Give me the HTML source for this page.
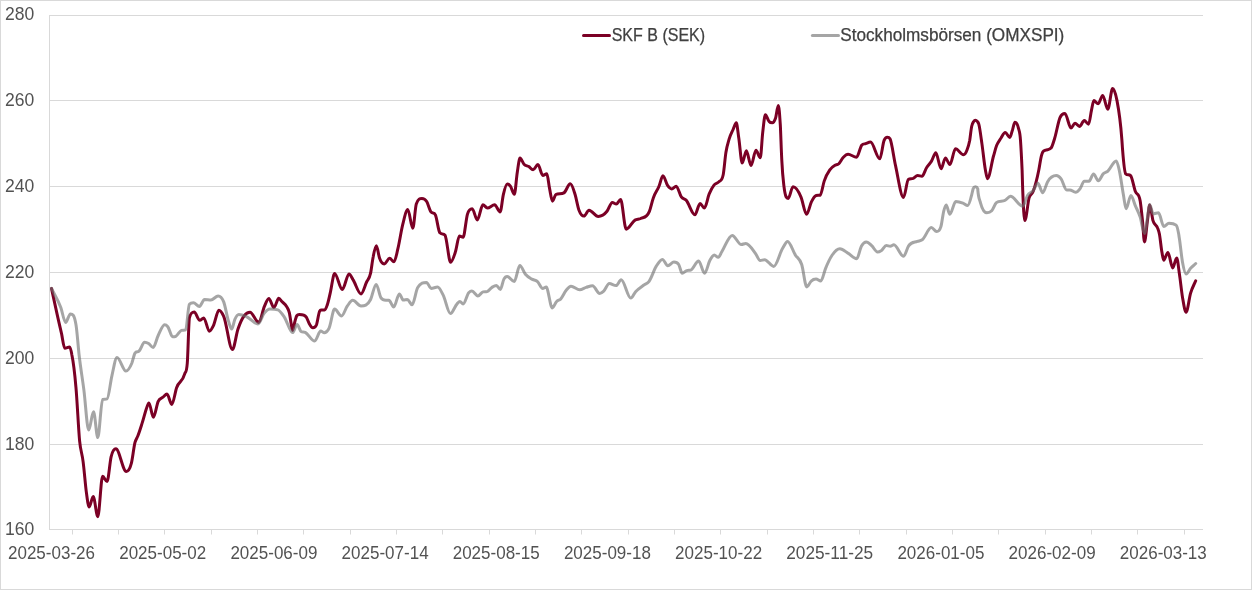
<!DOCTYPE html>
<html lang="sv"><head><meta charset="utf-8"><title>SKF B vs OMXSPI</title>
<style>html,body{margin:0;padding:0;background:#fff}body{width:1252px;height:590px;overflow:hidden}svg{display:block}text{font-family:"Liberation Sans",sans-serif;fill:#404040}text.a{fill:#525252}text.l{stroke:#404040;stroke-width:0.25px}</style></head><body>
<svg width="1252" height="590" viewBox="0 0 1252 590">
<rect x="0.5" y="0.5" width="1251" height="589" fill="#fff" stroke="#D9D9D9" stroke-width="1"/>
<path d="M49.0 15.5H1203.0M49.0 100.5H1203.0M49.0 186.5H1203.0M49.0 272.5H1203.0M49.0 358.5H1203.0M49.0 444.5H1203.0M49.0 529.5H1203.0M49.5 15.5V529.5M72.5 529.5V534.5M118.5 529.5V534.5M164.5 529.5V534.5M211.5 529.5V534.5M257.5 529.5V534.5M303.5 529.5V534.5M350.5 529.5V534.5M396.5 529.5V534.5M442.5 529.5V534.5M489.5 529.5V534.5M535.5 529.5V534.5M581.5 529.5V534.5M628.5 529.5V534.5M674.5 529.5V534.5M720.5 529.5V534.5M767.5 529.5V534.5M813.5 529.5V534.5M859.5 529.5V534.5M906.5 529.5V534.5M952.5 529.5V534.5M998.5 529.5V534.5M1045.5 529.5V534.5M1091.5 529.5V534.5M1137.5 529.5V534.5M1184.5 529.5V534.5" fill="none" stroke="#D9D9D9" stroke-width="1"/>
<text class="a" x="5.0" y="20.1" font-size="18.5" textLength="29.3" lengthAdjust="spacingAndGlyphs">280</text>
<text class="a" x="5.0" y="106.0" font-size="18.5" textLength="29.3" lengthAdjust="spacingAndGlyphs">260</text>
<text class="a" x="5.0" y="192.1" font-size="18.5" textLength="29.3" lengthAdjust="spacingAndGlyphs">240</text>
<text class="a" x="5.0" y="278.1" font-size="18.5" textLength="29.3" lengthAdjust="spacingAndGlyphs">220</text>
<text class="a" x="5.0" y="364.1" font-size="18.5" textLength="29.3" lengthAdjust="spacingAndGlyphs">200</text>
<text class="a" x="5.0" y="450.1" font-size="18.5" textLength="29.3" lengthAdjust="spacingAndGlyphs">180</text>
<text class="a" x="5.0" y="535.0" font-size="18.5" textLength="29.3" lengthAdjust="spacingAndGlyphs">160</text>
<text class="a" x="8.0" y="559.1" font-size="18.5" textLength="87.0" lengthAdjust="spacingAndGlyphs">2025-03-26</text>
<text class="a" x="119.2" y="559.1" font-size="18.5" textLength="87.0" lengthAdjust="spacingAndGlyphs">2025-05-02</text>
<text class="a" x="230.4" y="559.1" font-size="18.5" textLength="87.0" lengthAdjust="spacingAndGlyphs">2025-06-09</text>
<text class="a" x="341.6" y="559.1" font-size="18.5" textLength="87.0" lengthAdjust="spacingAndGlyphs">2025-07-14</text>
<text class="a" x="452.7" y="559.1" font-size="18.5" textLength="87.0" lengthAdjust="spacingAndGlyphs">2025-08-15</text>
<text class="a" x="563.9" y="559.1" font-size="18.5" textLength="87.0" lengthAdjust="spacingAndGlyphs">2025-09-18</text>
<text class="a" x="675.1" y="559.1" font-size="18.5" textLength="87.0" lengthAdjust="spacingAndGlyphs">2025-10-22</text>
<text class="a" x="786.2" y="559.1" font-size="18.5" textLength="87.0" lengthAdjust="spacingAndGlyphs">2025-11-25</text>
<text class="a" x="897.4" y="559.1" font-size="18.5" textLength="87.0" lengthAdjust="spacingAndGlyphs">2026-01-05</text>
<text class="a" x="1008.6" y="559.1" font-size="18.5" textLength="87.0" lengthAdjust="spacingAndGlyphs">2026-02-09</text>
<text class="a" x="1119.8" y="559.1" font-size="18.5" textLength="87.0" lengthAdjust="spacingAndGlyphs">2026-03-13</text>
<path d="M51.5 288.4C53.0 295.3 54.5 302.4 56.0 309.1C57.8 317.6 59.7 325.6 61.6 333.9C62.6 338.7 63.7 348.3 64.8 348.3C66.4 348.3 68.0 347.0 69.6 347.0C70.4 347.0 71.2 350.9 71.9 355.0C73.3 361.8 74.6 371.7 75.9 386.9C77.2 401.0 78.4 428.3 79.6 440.8C80.8 452.7 82.0 452.4 83.1 461.6C84.2 469.9 85.3 484.2 86.3 491.9C87.3 498.9 88.2 507.1 89.2 507.1C90.5 507.1 91.9 496.4 93.2 496.4C94.7 496.4 96.3 516.7 97.8 516.7C99.4 516.7 101.0 476.3 102.6 476.3C104.1 476.3 105.6 481.5 107.1 481.5C108.4 481.5 109.8 462.3 111.1 456.8C112.7 450.2 114.3 448.8 115.9 448.8C119.3 448.8 122.8 471.5 126.3 471.5C128.0 471.5 129.7 469.9 131.4 463.2C132.6 458.3 133.8 447.0 135.0 442.4C136.0 439.0 136.9 438.3 137.8 436.0C139.3 432.2 140.7 427.6 142.2 422.9C143.6 418.7 144.9 413.0 146.2 409.3C147.1 406.8 148.0 402.9 148.9 402.9C150.4 402.9 151.9 417.3 153.4 417.3C155.0 417.3 156.6 404.7 158.2 401.3C159.8 398.0 161.4 398.5 163.0 397.2C164.3 396.1 165.7 394.1 167.0 394.1C168.6 394.1 170.2 404.5 171.8 404.5C173.4 404.5 175.0 392.3 176.6 387.7C179.2 380.2 181.9 383.5 184.6 374.2C185.5 371.0 186.4 374.2 187.3 363.0C188.0 354.4 188.7 320.6 189.4 317.9C191.0 311.9 192.6 311.9 194.2 311.9C196.0 311.9 197.9 320.3 199.7 320.3C201.1 320.3 202.4 317.9 203.7 317.9C205.6 317.9 207.5 331.2 209.3 331.2C210.7 331.2 212.0 328.5 213.3 325.9C215.2 322.3 217.1 310.3 218.9 310.3C220.5 310.3 222.1 312.9 223.7 316.3C226.6 322.6 229.5 349.5 232.4 349.5C234.3 349.5 236.1 334.6 238.0 329.1C240.1 322.8 242.2 318.3 244.4 315.5C246.2 313.1 248.1 312.3 250.0 312.3C252.9 312.3 255.8 322.4 258.8 322.4C260.6 322.4 262.5 311.0 264.3 306.7C265.8 303.3 267.3 298.4 268.8 298.4C270.5 298.4 272.2 307.5 273.9 307.5C275.6 307.5 277.2 298.3 278.8 298.3C279.8 298.3 280.9 300.5 281.9 301.6C283.5 303.3 285.1 303.8 286.7 306.7C287.5 308.3 288.4 308.6 289.3 312.6C289.9 315.1 290.5 319.6 291.0 322.7C291.5 325.5 292.0 330.4 292.6 330.4C293.4 330.4 294.2 323.5 295.1 320.7C295.7 318.8 296.2 316.5 296.8 315.6C297.6 314.4 298.4 314.4 299.2 314.4C300.7 314.4 302.2 314.4 303.7 315.1C304.6 315.5 305.4 315.9 306.3 317.1C307.3 318.6 308.3 322.0 309.3 323.7C310.5 325.8 311.7 327.8 312.9 327.8C314.1 327.8 315.3 327.8 316.5 324.8C317.5 322.1 318.5 313.7 319.5 311.5C320.0 310.5 320.5 310.0 321.0 310.0C322.2 310.0 323.4 310.0 324.6 310.0C325.4 310.0 326.3 307.8 327.1 305.4C328.2 302.6 329.2 297.5 330.2 293.2C331.7 287.0 333.2 273.5 334.6 273.5C337.2 273.5 339.7 289.5 342.3 289.5C344.5 289.5 346.8 274.0 349.0 274.0C350.3 274.0 351.7 277.5 353.0 279.6C355.7 283.7 358.3 293.9 361.0 293.9C362.9 293.9 364.7 286.0 366.6 282.0C367.9 279.1 369.2 279.5 370.6 273.2C371.4 269.1 372.3 261.0 373.2 256.7C374.2 251.3 375.3 245.8 376.4 245.8C377.4 245.8 378.5 255.3 379.6 258.3C381.2 262.8 382.7 263.9 384.3 263.9C386.1 263.9 387.9 258.3 389.6 258.3C391.1 258.3 392.5 261.8 393.9 261.8C395.3 261.8 396.6 254.1 397.9 248.7C399.5 242.2 401.1 231.1 402.7 224.7C404.4 217.9 406.1 209.6 407.8 209.6C409.5 209.6 411.1 228.2 412.8 228.2C414.0 228.2 415.1 207.5 416.3 204.0C418.2 198.4 420.0 198.4 421.9 198.4C423.5 198.4 425.1 198.9 426.7 201.6C428.0 203.8 429.3 209.4 430.7 211.6C432.3 214.4 433.9 211.6 435.5 215.1C436.9 218.3 438.3 230.8 439.8 232.7C441.5 235.1 443.3 232.7 445.0 235.1C446.9 237.7 448.8 262.3 450.6 262.3C452.2 262.3 453.8 256.9 455.4 251.9C456.8 247.7 458.1 235.9 459.4 235.9C460.6 235.9 461.9 237.2 463.1 237.2C464.5 237.2 466.0 219.1 467.4 214.3C469.0 209.0 470.6 208.8 472.2 208.8C473.9 208.8 475.6 219.9 477.3 219.9C479.2 219.9 481.0 204.8 482.9 204.8C484.4 204.8 485.9 208.0 487.4 208.0C489.8 208.0 492.2 204.8 494.6 204.8C496.4 204.8 498.3 211.9 500.2 211.9C501.2 211.9 502.3 198.9 503.4 194.4C504.7 188.8 506.0 184.0 507.3 184.0C508.4 184.0 509.4 184.9 510.4 186.2C511.7 187.9 513.0 194.2 514.4 194.2C515.3 194.2 516.3 178.3 517.3 172.2C518.2 166.4 519.1 158.1 520.0 158.1C521.3 158.1 522.6 162.8 524.0 164.2C525.6 165.9 527.2 165.6 528.8 166.6C530.2 167.5 531.6 169.8 533.1 169.8C534.7 169.8 536.3 164.6 537.9 164.6C539.5 164.6 541.2 175.4 542.8 175.4C544.1 175.4 545.5 173.8 546.8 173.8C547.7 173.8 548.6 183.7 549.5 188.1C550.5 192.9 551.4 201.2 552.4 201.2C553.6 201.2 554.7 195.2 555.9 194.5C558.6 192.9 561.2 194.5 563.9 192.9C566.0 191.6 568.2 183.8 570.3 183.8C571.9 183.8 573.5 189.4 575.1 194.5C576.4 198.8 577.7 206.9 579.1 210.5C580.7 214.8 582.3 216.1 583.9 216.1C585.6 216.1 587.3 210.2 589.0 210.2C592.1 210.2 595.2 216.4 598.2 216.4C601.2 216.4 604.1 215.0 607.0 211.3C608.8 209.1 610.5 202.5 612.3 202.5C613.6 202.5 615.0 204.1 616.3 204.1C617.7 204.1 619.2 199.6 620.6 199.6C622.5 199.6 624.3 229.2 626.2 229.2C629.1 229.2 632.1 221.8 635.0 220.1C636.8 219.0 638.7 219.4 640.6 218.5C643.5 217.0 646.4 218.5 649.4 211.3C650.7 208.0 652.0 201.5 653.4 197.7C655.2 192.5 657.1 191.0 658.9 186.5C660.3 183.3 661.6 175.7 662.9 175.7C664.5 175.7 666.1 183.5 667.7 185.7C669.1 187.6 670.4 188.9 671.7 188.9C673.2 188.9 674.7 186.2 676.2 186.2C677.9 186.2 679.6 194.6 681.3 196.9C682.9 199.1 684.5 198.5 686.1 200.1C689.0 203.1 692.0 214.8 694.9 214.8C696.6 214.8 698.3 203.5 700.1 203.5C701.5 203.5 702.9 208.0 704.4 208.0C706.0 208.0 707.6 197.7 709.2 193.9C710.8 190.1 712.4 187.1 714.0 185.1C715.6 183.1 717.2 183.8 718.8 181.9C720.2 180.2 721.7 181.9 723.2 174.7C724.1 170.4 725.0 158.1 725.9 152.4C727.0 145.6 728.1 142.7 729.1 139.1C730.5 134.6 731.8 132.5 733.1 129.5C734.2 127.1 735.3 122.8 736.3 122.8C737.1 122.8 737.9 132.2 738.7 137.5C739.9 145.2 741.1 163.1 742.2 163.1C743.6 163.1 745.0 150.8 746.4 150.8C747.9 150.8 749.5 165.5 751.0 165.5C752.7 165.5 754.3 150.3 756.0 150.3C757.4 150.3 758.8 157.8 760.3 157.8C761.1 157.8 761.9 139.6 762.7 132.7C763.6 124.9 764.5 114.8 765.4 114.8C766.6 114.8 767.8 120.2 769.1 121.5C770.1 122.7 771.2 122.8 772.3 122.8C773.3 122.8 774.4 121.5 775.5 118.3C776.4 115.5 777.4 105.6 778.3 105.6C779.0 105.6 779.6 113.7 780.3 124.7C780.8 133.9 781.3 152.3 781.9 161.9C782.5 174.5 783.2 179.9 783.9 185.9C785.4 198.4 786.8 198.4 788.2 198.4C789.8 198.4 791.4 186.7 793.0 186.7C795.7 186.7 798.4 190.8 801.0 197.1C802.9 201.5 804.7 214.3 806.6 214.3C808.2 214.3 809.8 205.0 811.4 201.9C813.0 198.7 814.6 195.9 816.2 195.5C817.5 195.2 818.9 195.5 820.2 195.2C821.5 194.9 822.9 185.0 824.2 181.1C826.0 175.7 827.9 172.6 829.8 169.9C831.4 167.7 833.0 166.5 834.6 165.5C835.9 164.6 837.2 165.0 838.6 163.9C840.2 162.5 841.8 158.8 843.4 157.2C845.0 155.6 846.5 154.3 848.1 154.3C850.9 154.3 853.7 157.2 856.5 157.2C858.2 157.2 860.0 147.3 861.7 145.2C863.1 143.6 864.4 144.1 865.7 143.6C867.3 143.0 868.9 142.0 870.5 142.0C873.6 142.0 876.7 158.8 879.8 158.8C881.2 158.8 882.7 143.8 884.1 140.4C885.2 137.8 886.2 137.2 887.3 137.2C888.2 137.2 889.1 137.2 890.0 138.8C891.8 142.0 893.7 157.5 895.6 165.9C898.2 177.9 900.9 197.5 903.5 197.5C905.1 197.5 906.7 180.6 908.3 179.5C909.9 178.4 911.5 179.1 913.1 178.4C914.6 177.7 916.1 175.5 917.6 175.5C919.0 175.5 920.5 176.3 921.9 176.3C923.5 176.3 925.1 170.0 926.7 167.5C928.3 165.0 929.9 163.7 931.5 161.1C932.9 158.8 934.4 152.8 935.8 152.8C937.6 152.8 939.3 168.8 941.1 168.8C942.5 168.8 944.0 157.9 945.4 157.9C946.9 157.9 948.4 164.6 949.9 164.6C951.7 164.6 953.6 148.8 955.5 148.8C958.1 148.8 960.8 154.7 963.5 154.7C964.7 154.7 965.9 153.0 967.1 149.7C968.0 147.4 968.8 145.2 969.7 140.5C970.3 136.8 971.0 129.5 971.7 126.3C972.4 123.1 973.1 122.4 973.7 121.4C974.2 120.6 974.8 120.2 975.3 120.2C975.9 120.2 976.6 120.5 977.3 121.4C977.8 122.1 978.3 122.5 978.8 124.2C979.8 127.7 980.9 136.6 981.9 143.6C983.1 151.7 984.2 163.5 985.4 170.0C986.1 173.6 986.8 178.7 987.4 178.7C989.5 178.7 991.5 162.9 993.6 155.8C994.6 152.3 995.6 148.3 996.6 145.6C998.0 142.0 999.3 140.6 1000.7 138.5C1002.2 136.1 1003.7 132.6 1005.3 132.6C1006.8 132.6 1008.3 137.5 1009.8 137.5C1010.7 137.5 1011.5 132.9 1012.4 130.3C1013.2 127.8 1014.1 122.2 1014.9 122.2C1016.1 122.2 1017.3 123.0 1018.5 128.3C1019.2 131.3 1019.9 131.3 1020.5 140.5C1021.0 147.4 1021.5 156.9 1022.1 170.0C1022.3 176.0 1022.5 184.1 1022.7 189.9C1023.4 207.4 1024.1 220.6 1024.8 220.6C1026.3 220.6 1027.7 202.8 1029.1 197.9C1030.5 193.5 1031.8 194.9 1033.1 191.5C1035.0 186.8 1036.9 179.6 1038.8 170.0C1039.7 165.8 1040.5 159.0 1041.4 155.8C1041.9 153.9 1042.4 152.6 1042.9 151.7C1043.8 150.2 1044.6 150.6 1045.5 150.2C1047.3 149.2 1049.2 150.2 1051.0 148.1C1052.2 146.9 1053.4 142.3 1054.6 138.5C1056.4 132.8 1058.2 121.7 1060.0 117.6C1061.6 113.9 1063.3 113.5 1064.9 113.5C1066.9 113.5 1069.0 128.0 1071.0 128.0C1072.4 128.0 1073.7 123.2 1075.0 123.2C1076.5 123.2 1078.0 126.4 1079.5 126.4C1081.1 126.4 1082.7 120.5 1084.3 120.5C1085.7 120.5 1087.2 124.2 1088.6 124.2C1089.6 124.2 1090.5 114.4 1091.5 110.1C1092.3 106.6 1093.1 100.6 1093.9 100.6C1095.3 100.6 1096.7 103.8 1098.2 103.8C1099.7 103.8 1101.2 95.4 1102.7 95.4C1104.4 95.4 1106.1 109.3 1107.8 109.3C1109.4 109.3 1111.0 88.6 1112.6 88.6C1114.0 88.6 1115.5 92.7 1117.0 100.6C1118.6 108.9 1120.2 117.2 1121.8 138.9C1122.1 142.4 1122.3 146.6 1122.6 150.0C1123.7 164.0 1124.7 172.9 1125.8 174.0C1127.4 175.6 1129.0 174.0 1130.6 175.6C1132.2 177.2 1133.8 187.3 1135.4 191.5C1137.0 195.8 1138.6 191.5 1140.2 201.1C1141.0 205.9 1141.8 214.2 1142.6 221.9C1143.2 228.0 1143.8 241.9 1144.5 241.9C1145.4 241.9 1146.4 228.6 1147.3 221.9C1148.1 216.3 1148.9 205.1 1149.7 205.1C1150.8 205.1 1151.9 216.5 1152.9 220.3C1154.5 225.9 1156.1 223.6 1157.7 228.3C1158.3 229.9 1158.9 231.2 1159.4 234.0C1160.2 238.0 1161.0 246.9 1161.8 251.6C1162.5 255.3 1163.1 260.3 1163.7 260.3C1165.1 260.3 1166.5 252.4 1167.9 252.4C1169.5 252.4 1171.1 267.9 1172.7 267.9C1174.0 267.9 1175.3 257.9 1176.7 257.9C1177.6 257.9 1178.5 267.9 1179.4 273.9C1180.5 281.0 1181.5 291.6 1182.6 297.9C1183.8 304.8 1184.9 312.3 1186.1 312.3C1187.6 312.3 1189.1 298.2 1190.6 293.1C1192.3 287.3 1194.0 284.9 1195.7 280.8" fill="none" stroke="#7B0025" stroke-width="3" stroke-linecap="round" stroke-linejoin="round"/>
<path d="M51.5 288.4C54.6 294.8 57.7 299.1 60.8 307.5C62.4 311.9 64.0 322.4 65.6 322.4C67.2 322.4 68.8 313.9 70.4 313.9C72.2 313.9 74.1 313.9 75.9 324.3C77.0 330.2 78.1 345.7 79.1 355.0C80.7 368.9 82.3 377.6 83.9 390.1C85.5 402.7 87.1 430.1 88.7 430.1C90.3 430.1 91.9 411.7 93.5 411.7C95.0 411.7 96.4 437.6 97.8 437.6C99.4 437.6 101.0 399.9 102.6 399.4C104.1 398.9 105.6 399.4 107.1 398.9C108.7 398.4 110.3 382.5 111.9 375.8C113.6 368.6 115.3 357.4 117.0 357.4C120.0 357.4 123.0 371.0 125.9 371.0C127.9 371.0 129.9 367.9 131.9 363.0C132.9 360.3 134.0 354.6 135.0 353.1C136.4 351.2 137.7 352.4 139.0 351.2C140.9 349.4 142.8 342.2 144.6 342.2C146.0 342.2 147.3 342.7 148.6 343.5C150.1 344.4 151.6 347.5 153.1 347.5C154.8 347.5 156.5 339.0 158.2 335.5C160.3 331.1 162.5 324.8 164.6 324.8C165.7 324.8 166.7 325.4 167.8 326.7C169.4 328.6 171.0 336.8 172.6 336.8C173.7 336.8 174.7 336.8 175.8 336.3C177.6 335.5 179.5 331.0 181.4 330.4C182.8 329.9 184.2 330.4 185.7 329.9C186.9 329.5 188.1 305.8 189.4 304.3C190.7 302.7 192.0 302.7 193.4 302.7C195.4 302.7 197.4 306.4 199.4 306.4C201.1 306.4 202.8 299.6 204.5 299.6C206.7 299.6 208.8 300.0 210.9 300.0C213.3 300.0 215.7 296.0 218.1 296.0C220.0 296.0 221.8 297.0 223.7 301.9C225.3 306.2 226.9 316.2 228.5 321.1C229.6 324.4 230.6 329.1 231.7 329.1C232.7 329.1 233.8 321.9 234.8 319.5C236.1 316.4 237.5 314.4 238.8 314.4C241.2 314.4 243.6 315.3 246.0 316.3C250.0 317.9 254.0 324.0 258.0 324.0C260.1 324.0 262.2 315.6 264.3 313.1C266.2 310.9 268.1 309.1 269.9 309.1C272.6 309.1 275.3 309.1 277.9 309.9C280.1 310.6 282.2 314.0 284.3 317.1C287.1 321.1 289.9 332.6 292.6 332.6C294.1 332.6 295.6 324.6 297.1 324.6C298.4 324.6 299.8 330.7 301.1 331.5C302.4 332.3 303.7 331.7 305.1 332.3C308.3 333.6 311.5 341.1 314.7 341.1C316.7 341.1 318.7 331.0 320.7 331.0C321.9 331.0 323.1 332.8 324.2 332.8C325.8 332.8 327.4 331.6 329.0 328.3C330.9 324.4 332.8 309.1 334.6 309.1C336.9 309.1 339.2 316.0 341.5 316.0C343.5 316.0 345.4 308.6 347.4 305.9C349.2 303.5 350.9 300.3 352.7 300.3C355.5 300.3 358.2 305.9 361.0 305.9C364.2 305.9 367.4 305.8 370.6 299.5C372.4 295.9 374.3 284.4 376.2 284.4C377.8 284.4 379.4 295.5 381.0 297.9C382.6 300.3 384.2 300.3 385.8 300.3C386.8 300.3 387.9 300.3 388.9 300.3C390.5 300.3 392.1 307.0 393.7 307.0C395.6 307.0 397.5 293.9 399.3 293.9C400.7 293.9 402.0 300.0 403.3 300.0C404.7 300.0 406.0 299.5 407.3 299.5C408.9 299.5 410.5 304.8 412.1 304.8C414.0 304.8 415.8 290.8 417.7 287.6C420.6 282.4 423.6 282.4 426.5 282.4C428.1 282.4 429.6 288.4 431.2 288.4C433.3 288.4 435.4 287.1 437.6 287.1C439.4 287.1 441.3 291.5 443.2 295.1C445.6 299.7 448.0 313.5 450.4 313.5C452.6 313.5 454.8 306.2 457.1 303.9C458.0 302.9 459.0 301.5 459.9 301.5C461.0 301.5 462.1 303.9 463.1 303.9C465.0 303.9 466.9 294.7 468.7 292.7C469.8 291.6 470.9 291.1 471.9 291.1C473.9 291.1 475.9 295.9 477.8 295.9C479.6 295.9 481.3 292.3 483.1 291.9C484.4 291.6 485.8 291.9 487.1 291.6C488.7 291.2 490.3 288.5 491.9 287.4C493.4 286.5 494.9 285.5 496.4 285.5C497.7 285.5 499.0 289.5 500.4 289.5C501.5 289.5 502.7 281.3 503.9 279.1C504.9 277.2 506.0 276.4 507.1 276.4C509.5 276.4 511.9 281.5 514.2 281.5C516.1 281.5 518.0 265.6 519.8 265.6C521.7 265.6 523.6 272.1 525.4 274.3C527.6 276.9 529.7 277.9 531.8 279.1C533.7 280.2 535.5 279.9 537.4 281.5C539.2 283.1 540.9 288.4 542.7 288.4C543.9 288.4 545.0 287.1 546.2 287.1C548.2 287.1 550.2 307.9 552.3 307.9C553.7 307.9 555.1 303.0 556.6 301.5C557.9 300.1 559.2 300.4 560.6 299.1C562.4 297.2 564.3 292.5 566.2 290.3C567.8 288.4 569.4 286.3 571.0 286.3C573.9 286.3 576.8 289.8 579.7 289.8C581.9 289.8 584.0 288.1 586.1 287.4C588.3 286.8 590.4 285.8 592.5 285.8C594.9 285.8 597.3 293.5 599.7 293.5C601.0 293.5 602.4 292.3 603.7 291.1C605.6 289.4 607.4 283.6 609.3 283.6C611.6 283.6 613.8 285.6 616.1 285.6C617.8 285.6 619.5 279.7 621.2 279.7C624.4 279.7 627.6 298.1 630.8 298.1C632.4 298.1 634.0 293.5 635.6 291.7C638.2 288.7 640.9 287.3 643.5 285.3C645.4 283.9 647.3 283.8 649.1 281.3C651.5 278.1 653.9 269.9 656.3 266.1C658.3 262.9 660.4 259.4 662.4 259.4C664.2 259.4 666.0 265.8 667.8 265.8C669.9 265.8 671.9 262.1 673.9 262.1C675.5 262.1 677.1 262.1 678.7 264.5C679.9 266.3 681.0 273.3 682.2 273.3C683.7 273.3 685.2 271.1 686.7 270.6C688.0 270.1 689.3 270.6 690.7 270.1C693.3 269.2 696.0 261.0 698.7 261.0C700.6 261.0 702.6 273.3 704.6 273.3C706.3 273.3 708.1 263.7 709.8 260.5C711.3 257.9 712.7 254.9 714.2 254.9C715.5 254.9 716.9 257.3 718.3 257.3C719.5 257.3 720.6 253.6 721.8 251.7C725.3 246.3 728.7 235.4 732.2 235.4C735.2 235.4 738.3 244.6 741.3 244.6C742.8 244.6 744.3 243.4 745.8 243.4C749.0 243.4 752.2 249.0 755.4 253.3C757.0 255.5 758.6 260.5 760.2 260.5C761.7 260.5 763.1 259.7 764.6 259.7C767.7 259.7 770.7 266.4 773.7 266.4C776.7 266.4 779.6 253.3 782.5 248.5C784.2 245.8 785.9 241.4 787.6 241.4C790.2 241.4 792.7 250.8 795.3 254.9C797.4 258.4 799.6 257.9 801.7 264.5C803.4 269.8 805.1 286.9 806.8 286.9C808.3 286.9 809.7 282.3 811.2 281.1C812.8 279.6 814.4 279.1 816.0 279.1C817.6 279.1 819.2 281.1 820.8 281.1C822.4 281.1 824.0 272.1 825.6 268.3C827.7 263.2 829.8 258.7 831.9 255.5C834.6 251.5 837.3 248.8 839.9 248.8C842.6 248.8 845.3 251.5 847.9 253.1C850.9 254.8 853.8 258.7 856.7 258.7C858.3 258.7 859.9 248.7 861.5 245.9C863.1 243.1 864.7 241.9 866.3 241.9C868.2 241.9 870.0 244.2 871.9 245.9C873.7 247.6 875.6 252.0 877.5 252.0C878.8 252.0 880.1 251.3 881.5 250.4C883.1 249.3 884.7 245.6 886.3 245.6C887.6 245.6 888.9 246.2 890.3 246.2C891.5 246.2 892.7 244.8 893.9 244.8C897.1 244.8 900.3 256.3 903.5 256.3C905.2 256.3 906.9 248.4 908.6 245.9C911.6 241.6 914.5 242.6 917.4 241.4C919.0 240.8 920.6 240.9 922.2 239.8C925.2 237.8 928.3 227.5 931.3 227.5C933.1 227.5 934.8 231.5 936.6 231.5C938.0 231.5 939.5 231.5 940.9 226.7C941.9 223.5 942.8 214.5 943.8 210.8C944.6 207.7 945.4 204.9 946.2 204.9C947.4 204.9 948.6 214.3 949.8 214.3C951.8 214.3 953.8 201.5 955.8 201.5C958.1 201.5 960.5 202.2 962.9 203.1C964.5 203.7 966.1 205.5 967.7 205.5C969.1 205.5 970.4 199.9 971.7 194.8C972.2 192.9 972.7 189.9 973.2 188.6C973.9 186.7 974.7 186.7 975.4 186.7C976.2 186.7 976.9 186.7 977.7 188.6C977.7 188.7 977.8 189.5 977.8 190.0C978.7 199.7 979.6 199.4 980.5 202.8C982.6 210.8 984.8 212.8 986.9 212.8C988.5 212.8 990.1 212.5 991.7 210.8C993.3 209.1 994.8 204.0 996.4 202.7C999.3 200.3 1002.2 202.0 1005.2 200.3C1006.9 199.3 1008.7 196.3 1010.4 196.3C1014.5 196.3 1018.6 206.2 1022.7 206.2C1024.3 206.2 1025.9 198.1 1027.5 195.5C1029.4 192.5 1031.3 193.0 1033.1 190.7C1034.7 188.8 1036.3 183.2 1037.9 183.2C1039.5 183.2 1041.1 192.8 1042.7 192.8C1044.3 192.8 1045.9 184.7 1047.5 181.9C1050.4 176.9 1053.4 175.6 1056.3 175.6C1057.9 175.6 1059.5 176.7 1061.1 178.8C1062.9 181.1 1064.8 189.9 1066.7 189.9C1067.7 189.9 1068.8 189.9 1069.9 189.9C1071.7 189.9 1073.6 192.3 1075.5 192.3C1077.1 192.3 1078.7 190.5 1080.3 188.3C1081.6 186.5 1082.9 181.2 1084.2 181.2C1085.8 181.2 1087.4 181.2 1089.0 181.2C1090.5 181.2 1092.0 174.0 1093.5 174.0C1095.1 174.0 1096.7 180.7 1098.3 180.7C1100.0 180.7 1101.7 175.2 1103.4 173.6C1104.7 172.5 1106.1 172.5 1107.4 171.6C1110.3 169.4 1113.3 160.9 1116.2 160.9C1117.3 160.9 1118.3 166.1 1119.4 170.8C1120.7 176.6 1122.1 187.4 1123.4 194.7C1124.3 199.7 1125.2 208.8 1126.1 208.8C1127.7 208.8 1129.3 195.5 1130.9 195.5C1132.4 195.5 1133.9 202.4 1135.4 205.9C1137.0 209.6 1138.6 212.1 1140.2 217.1C1141.6 221.6 1143.0 233.5 1144.5 233.5C1145.4 233.5 1146.4 224.2 1147.3 218.7C1148.1 214.4 1148.8 204.6 1149.6 204.6C1150.8 204.6 1152.0 213.7 1153.3 213.7C1155.0 213.7 1156.8 212.8 1158.5 212.8C1160.3 212.8 1162.0 226.4 1163.8 226.4C1165.5 226.4 1167.2 223.2 1168.9 223.2C1171.3 223.2 1173.7 223.2 1176.1 225.1C1176.9 225.7 1177.7 228.6 1178.5 233.1C1178.8 234.7 1179.1 236.8 1179.4 238.8C1180.5 245.8 1181.5 256.9 1182.6 262.7C1183.8 269.1 1184.9 273.9 1186.1 273.9C1187.6 273.9 1189.1 270.0 1190.6 268.3C1192.3 266.5 1194.0 265.1 1195.7 263.5" fill="none" stroke="#6E6E6E" stroke-opacity="0.62" stroke-width="3" stroke-linecap="round" stroke-linejoin="round"/>
<path d="M583.5 35.5H609.5" stroke="#7B0025" stroke-width="3" stroke-linecap="round"/>
<text class="l" x="611.7" y="40.6" font-size="17.5" textLength="93.4" lengthAdjust="spacingAndGlyphs">SKF B (SEK)</text>
<path d="M812.4 35.5H838.5" stroke="#6E6E6E" stroke-opacity="0.62" stroke-width="3" stroke-linecap="round"/>
<text class="l" x="840.3" y="40.6" font-size="17.5" textLength="224.0" lengthAdjust="spacingAndGlyphs">Stockholmsbörsen (OMXSPI)</text>
</svg></body></html>
